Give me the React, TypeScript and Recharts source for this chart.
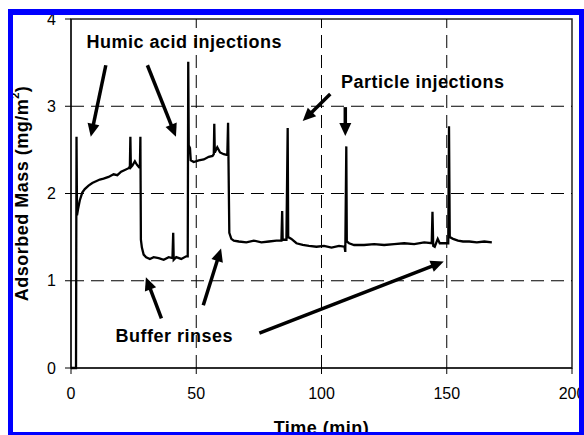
import React from "react";
import {
  LineChart,
  Line,
  XAxis,
  YAxis,
  ReferenceLine,
  ReferenceArea,
  ReferenceDot,
  Label,
} from "recharts";

// time (min) and adsorbed mass (mg/m2)
const times = [
  0, 2.0, 2.2, 2.4, 2.8, 3.5, 4.5, 5.5, 7, 8.5, 10, 11.5, 13, 15, 17, 18.5, 20, 21.5, 23, 23.5,
  23.7, 23.9, 24.5, 25.5, 26.3, 27.2, 27.5, 27.7, 27.9, 28.3, 29, 30, 31.5, 33, 35, 37, 39, 40.5,
  40.8, 41.0, 42, 44, 46, 46.6, 46.8, 47.0, 47.5, 47.8, 49, 51, 53, 55, 56.5, 57.0, 57.2, 57.4,
  58.4, 59.5, 61, 62.4, 62.7, 63.2, 64, 65, 67, 70, 73, 76, 79, 82, 84.0, 84.3, 84.5, 86.0, 86.5,
  86.7, 88, 90, 92.5, 95, 98, 101, 104, 107, 109.2, 109.5, 109.9, 110.1, 111, 113, 117, 121, 125,
  129, 133, 137, 141, 144.0, 144.3, 144.6, 145.2, 146.4, 147.2, 149, 150.6, 150.9, 151.2, 152.5,
  154.5, 156.5, 159, 162, 165, 168,
];
const mass = [
  0, 0, 2.65, 1.75, 1.82, 1.92, 2.01, 2.05, 2.09, 2.12, 2.14, 2.16, 2.17, 2.19, 2.22, 2.21, 2.25,
  2.27, 2.29, 2.31, 2.65, 2.3, 2.32, 2.37, 2.33, 2.3, 2.3, 2.65, 1.47, 1.38, 1.3, 1.27, 1.25, 1.27,
  1.26, 1.24, 1.27, 1.26, 1.55, 1.24, 1.27, 1.25, 1.28, 1.28, 3.51, 2.55, 2.52, 2.38, 2.36, 2.38,
  2.39, 2.42, 2.43, 2.45, 2.8, 2.47, 2.53, 2.47, 2.45, 2.44, 2.81, 1.55, 1.48, 1.46, 1.45, 1.44,
  1.46, 1.44, 1.45, 1.46, 1.46, 1.8, 1.47, 1.47, 2.75, 1.5, 1.48, 1.43, 1.41, 1.4, 1.39, 1.4, 1.38,
  1.4, 1.39, 1.33, 2.54, 1.45, 1.43, 1.41, 1.41, 1.42, 1.41, 1.42, 1.43, 1.42, 1.44, 1.43, 1.79,
  1.4, 1.39, 1.48, 1.43, 1.43, 1.43, 2.77, 1.5, 1.48, 1.46, 1.45, 1.45, 1.44, 1.45, 1.44,
];

const xTicks = [0, 50, 100, 150, 200];
const yTicks = [0, 1, 2, 3, 4];
const xGrid = [50, 100, 150];
const yGrid = [1, 2, 3];

// annotation arrows: [from t, from v, to t, to v]
const arrows = [
  [13.9, 3.47, 7.9, 2.65],
  [30.5, 3.47, 41.9, 2.65],
  [103.5, 3.14, 92.5, 2.83],
  [109.5, 2.99, 109.5, 2.66],
  [36.1, 0.57, 29.9, 1.04],
  [52.8, 0.72, 59.9, 1.37],
  [75.2, 0.4, 148.8, 1.22],
];

const noteText = ["Humic acid injections", "Particle injections", "Buffer rinses"];
const noteT = [45.2, 140.4, 41.2];
const noteV = [3.74, 3.28, 0.37];

const data = times.map((t, i) => ({ t, m: mass[i] }));

const font = "'Liberation Sans', Arial, sans-serif";

const Arrow = (props: any) => {
  const { x1, y1, x2, y2 } = props;
  const dx = x2 - x1;
  const dy = y2 - y1;
  const len = Math.hypot(dx, dy) || 1;
  const ux = dx / len;
  const uy = dy / len;
  const hl = 13;
  const hw = 6;
  const bx = x2 - ux * hl;
  const by = y2 - uy * hl;
  const pts = `${x2},${y2} ${bx - uy * hw},${by + ux * hw} ${bx + uy * hw},${by - ux * hw}`;
  return (
    <g>
      <line x1={x1} y1={y1} x2={bx + ux * 2} y2={by + uy * 2} stroke="#000" strokeWidth={3.5} />
      <polygon points={pts} fill="#000" />
    </g>
  );
};

const YTitle = (props: any) => {
  const { x, y, height } = props.viewBox;
  const cx = x + 22;
  const cy = y + height / 2;
  return (
    <text
      x={cx}
      y={cy}
      transform={`rotate(-90 ${cx} ${cy})`}
      textAnchor="middle"
      dominantBaseline="central"
      fontSize={18}
      fontWeight="bold"
      fontFamily={font}
      letterSpacing={0.5}
      fill="#000"
    >
      Adsorbed Mass (mg/m
      <tspan fontSize={11} dy={-7}>2</tspan>
      <tspan dy={7}>)</tspan>
    </text>
  );
};

export default function App() {
  return (
    <div style={{ position: "absolute", left: 0, top: 0, width: 584, height: 435, background: "#fff", fontFamily: font, overflow: "hidden" }}>
      <LineChart width={584} height={435} data={data} margin={{ top: 19, right: 12, bottom: 0, left: 0 }}>
        <XAxis
          dataKey="t"
          type="number"
          domain={[0, 200]}
          ticks={xTicks}
          interval={0}
          height={67}
          tickSize={6}
          tickMargin={14}
          stroke="#000"
          tick={{ fill: "#000", fontSize: 16, fontFamily: font }}
        >
          <Label value="Time (min)" position="insideBottom" offset={1} fontSize={18} fontWeight="bold" fill="#000" fontFamily={font} letterSpacing={0.5} />
        </XAxis>
        <YAxis
          type="number"
          domain={[0, 4]}
          ticks={yTicks}
          interval={0}
          width={71}
          tickSize={6}
          tickMargin={9}
          stroke="#000"
          tick={{ fill: "#000", fontSize: 16, fontFamily: font }}
          label={{ content: YTitle }}
        />
        <ReferenceArea x1={0} x2={200} y1={0} y2={4} fill="none" stroke="#222" strokeWidth={1.5} />
        {yGrid.map((v) => (
          <ReferenceLine key={`h${v}`} y={v} stroke="#000" strokeDasharray="13 7" />
        ))}
        {xGrid.map((v) => (
          <ReferenceLine key={`v${v}`} x={v} stroke="#000" strokeDasharray="13 7" />
        ))}
        <Line type="linear" dataKey="m" stroke="#000" strokeWidth={2.3} dot={false} isAnimationActive={false} />
        {arrows.map((a, i) => (
          <ReferenceLine
            key={`a${i}`}
            segment={[
              { x: a[0], y: a[1] },
              { x: a[2], y: a[3] },
            ]}
            shape={Arrow}
          />
        ))}
        {noteText.map((s, i) => (
          <ReferenceDot
            key={`n${i}`}
            x={noteT[i]}
            y={noteV[i]}
            r={1}
            fill="none"
            stroke="none"
            label={{ value: s, position: "center", fontSize: 18, fontWeight: "bold", fill: "#000", fontFamily: font, letterSpacing: 0.5 }}
          />
        ))}
      </LineChart>
      <div
        style={{
          position: "absolute",
          left: 8,
          top: 9,
          width: 576,
          height: 426,
          boxSizing: "border-box",
          borderStyle: "solid",
          borderColor: "#0000ff",
          borderWidth: "6px 5px 3px 5px",
          pointerEvents: "none",
        }}
      />
    </div>
  );
}
